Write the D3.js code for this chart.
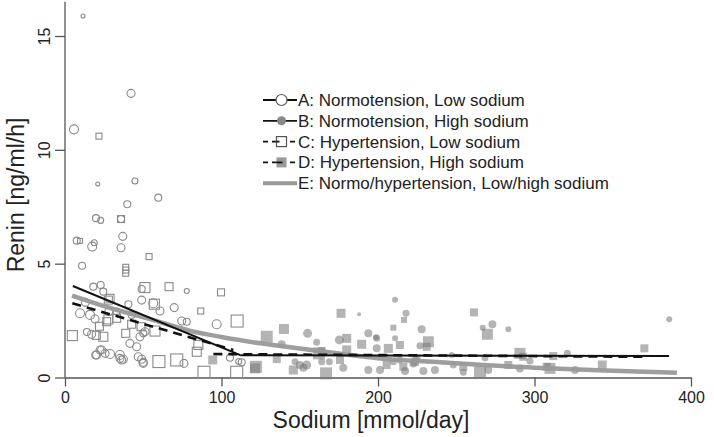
<!DOCTYPE html>
<html><head><meta charset="utf-8">
<script src="https://cdn.jsdelivr.net/npm/d3@7"></script>
<style>
html,body{margin:0;padding:0;background:#fff;}
svg{display:block;font-family:"Liberation Sans",Arial,Helvetica,sans-serif;}
</style></head>
<body>
<svg id="chart" width="714" height="437"></svg>
<script>
// ---- Data ----
const xTicks = [0, 100, 200, 300, 400];
const yTicks = [0, 5, 10, 15];
const xTitle = "Sodium [mmol/day]";
const yTitle = "Renin [ng/ml/h]";
const legendLabels = [
  "A: Normotension, Low sodium",
  "B: Normotension, High sodium",
  "C: Hypertension, Low sodium",
  "D: Hypertension, High sodium",
  "E: Normo/hypertension, Low/high sodium"
];
// [sodium, renin, size]
const groupA = [
  [11.5,15.88,2],[42.2,12.48,4],[5.75,10.9,4.5],[20.9,8.5,2],[44.7,8.63,3],[59.6,7.9,3.5],
  [39.8,7.61,3.5],[19.8,7.0,3.5],[22.8,6.9,3],[35.8,6.96,3.5],[36.9,6.2,4],[7.5,6.01,3.5],
  [18.7,5.92,3],[17.4,5.75,4.5],[35.8,5.7,4],[10.9,4.91,3.5],[18.1,3.99,3.5],[22.8,4.06,3.5],
  [49,3.89,3.5],[77.8,3.8,2.5],[24.5,3.77,3.5],[49,3.4,4],[60.7,2.92,4],[69.8,3.07,4],
  [40.5,3.22,3.5],[96.9,2.34,4.5],[9.6,2.82,4.5],[16,2.75,4.5],[74.6,2.48,4],[77.8,2.45,3.5],
  [51.1,2.01,4],[17,1.9,4],[47.9,1.79,4],[41.5,1.5,4],[45.8,1.35,4],[20.2,0.99,4],
  [23.4,1.21,4],[28.8,1.03,4.5],[35.1,0.99,4.5],[36.2,0.77,4],[46.8,0.91,4],[50,0.67,4],
  [76,0.62,4],[105.4,0.87,3.5],[112.9,0.67,3.5],[111,0.7,3],[13,3.3,4],[28,2.9,4],
  [42.6,2.75,3.5],[50,1.94,3.5],[56.4,3.26,4.5],[19.2,2.57,4],[19.6,0.99,4],[22.4,1.21,4],
  [25.6,1.06,4],[35.1,0.84,4],[37.3,0.8,4],[49,0.8,4],[50,0.62,4],[14,2.0,3.5],[33,2.9,3.5]
];
const groupB = [
  [155,1.94,4.5],[187.9,2.78,2],[210.9,3.41,3],[193.8,1.94,4],[175.3,1.65,4.5],[160.8,1.55,3.5],
  [138.5,1.46,4],[199.2,1.72,3.5],[199.2,1.28,4],[154.4,0.55,4.5],[152.3,0.43,4],[164,0.69,3.5],
  [168.9,0.69,3.5],[177.8,0.43,4],[193.8,0.33,4],[201.3,0.33,4],[209.8,0.69,3.5],[147,0.69,3.5],
  [217.9,2.82,3.5],[227.9,2.12,4],[266.9,2.19,3],[273.1,2.34,4],[283.3,2.12,3],[210.9,1.72,3],
  [226.8,1.4,3.5],[247.1,0.99,3],[268.4,0.87,3.5],[297.1,0.72,3.5],[214,0.77,3.5],[224.7,0.84,4],
  [217.3,0.29,4],[229,0.29,4],[236.4,0.33,4],[248.1,0.55,3.5],[254.5,0.23,3.5],[270.5,0.33,4],
  [290.7,0.4,4],[386.1,2.56,3],[325.9,0.33,4],[321,1.06,3.5],[150,0.55,4],[222.6,0.62,4],[198.7,1.77,3]
];
const groupC = [
  [21.7,10.6,3],[35.8,6.96,3.5],[9.6,6.0,2.5],[53.7,5.31,3],[38.8,4.84,3],[38.8,4.72,3],
  [38.8,4.58,3],[51.1,3.95,5],[66.5,3.99,4],[99.7,3.74,3.5],[28.8,3.48,4],[57.1,3.22,5],
  [86.7,2.92,3],[110,2.48,6],[26.6,2.45,4],[42.6,2.34,4],[48.6,2.23,4],[57.5,2.04,5],
  [4.7,1.84,5],[24.5,1.79,4.5],[38.8,1.94,4],[85.2,1.43,4.5],[84.2,1.13,4.5],[60,0.7,6],
  [71.4,0.77,6],[88.8,0.23,6],[109.7,0.23,6],[22,2.25,4],[27.7,2.55,4.5],[20,1.85,4],[33,2.6,4],[27.7,3.4,4]
];
const groupD = [
  [94.4,0.77,4.5],[121.4,0.4,5],[128.9,1.79,6],[139.9,2.13,5],[176.4,2.82,4.5],[209.8,2.19,3],
  [180,1.72,4.5],[189.6,1.46,4.5],[206.6,1.28,4.5],[162.3,1.06,6],[180,1.21,4.5],[135.3,0.81,4],
  [122,0.47,6],[145.9,0.33,4.5],[166.8,0.18,6],[175.7,0.77,4],[205.5,0.55,4],[216.6,2.53,3],
  [261.3,2.86,4],[269.9,1.9,5.5],[232.2,1.57,5.5],[214,1.43,4],[231.1,1.35,4],[290.7,1.06,5.5],
  [292.8,0.91,4],[223.6,0.69,4],[216.2,0.47,4],[254.5,0.47,4],[265.2,0.23,6],[283.3,0.55,4],
  [307.8,0.47,4],[370.2,1.28,4],[343.3,0.55,4.5],[309.9,0.4,5.5],[312,0.94,4],[164,1.16,4]
];
// fitted lines
const fitA = [[5,4.02],[112,0.98]];
const fitB = [[112,0.98],[386,0.94]];
const fitC = [[4.7,3.26],[107.6,1.21]];
const fitD = [[94.8,1.03],[369.6,0.91]];
const fitE = [[4.5,3.6],[30,3.03],[55,2.55],[80,2.05],[100,1.78],[125,1.5],[150,1.27],
              [175,1.05],[200,0.85],[240,0.67],[300,0.43],[350,0.3],[391,0.21]];

// ---- Drawing ----
const svg = d3.select("#chart");
const x = d3.scaleLinear().domain([0, 400]).range([65, 691]);
const y = d3.scaleLinear().domain([0, 15]).range([377.5, 36]);

const axisCol = "#555";
const ptCol = "#8a8a8a";

// axes
const gx = svg.append("g").attr("transform", `translate(0,${y(0)})`)
  .call(d3.axisBottom(x).tickValues(xTicks).tickSize(9).tickSizeOuter(0).tickPadding(5));
gx.select(".domain").attr("stroke", axisCol).attr("stroke-width", 1.3);
gx.selectAll(".tick line").attr("stroke", axisCol).attr("stroke-width", 1.3);
gx.selectAll(".tick text").attr("font-size", 16).attr("fill", "#222")
  .attr("font-family", '"Liberation Sans",Arial,sans-serif');

const gy = svg.append("g").attr("transform", `translate(${x(0)},0)`)
  .call(d3.axisLeft(y).tickValues(yTicks).tickSize(10).tickSizeOuter(0));
gy.select(".domain").remove();
gy.append("line").attr("x1", 0).attr("x2", 0).attr("y1", y(0)).attr("y2", y(16.5))
  .attr("stroke", axisCol).attr("stroke-width", 1.3);
gy.selectAll(".tick line").attr("stroke", axisCol).attr("stroke-width", 1.3);
gy.selectAll(".tick text").attr("font-size", 16).attr("fill", "#222")
  .attr("font-family", '"Liberation Sans",Arial,sans-serif')
  .attr("x", 0).attr("dy", 0).attr("text-anchor", "middle")
  .attr("transform", "translate(-15,0) rotate(-90)");

// titles
svg.append("text").attr("x", 371).attr("y", 428).attr("text-anchor", "middle")
  .attr("font-size", 23).attr("fill", "#222").text(xTitle);
svg.append("text").attr("transform", "translate(24,195) rotate(-90)").attr("text-anchor", "middle")
  .attr("font-size", 23).attr("fill", "#222").text(yTitle);

// points
const pts = svg.append("g");
pts.selectAll("circle.a").data(groupA).join("circle").attr("class", "a")
  .attr("cx", d => x(d[0])).attr("cy", d => y(d[1])).attr("r", d => d[2])
  .attr("fill", "none").attr("stroke", ptCol).attr("stroke-width", 1.1);
pts.selectAll("rect.c").data(groupC).join("rect").attr("class", "c")
  .attr("x", d => x(d[0]) - d[2]).attr("y", d => y(d[1]) - d[2])
  .attr("width", d => 2 * d[2]).attr("height", d => 2 * d[2])
  .attr("fill", "none").attr("stroke", ptCol).attr("stroke-width", 1.1);
pts.selectAll("circle.b").data(groupB).join("circle").attr("class", "b")
  .attr("cx", d => x(d[0])).attr("cy", d => y(d[1])).attr("r", d => d[2])
  .attr("fill", "#777").attr("fill-opacity", 0.55);
pts.selectAll("rect.d").data(groupD).join("rect").attr("class", "d")
  .attr("x", d => x(d[0]) - d[2]).attr("y", d => y(d[1]) - d[2])
  .attr("width", d => 2 * d[2]).attr("height", d => 2 * d[2])
  .attr("fill", "#777").attr("fill-opacity", 0.55);

// fit lines
const line = d3.line().x(d => x(d[0])).y(d => y(d[1]));
const lineE = d3.line().x(d => x(d[0])).y(d => y(d[1])).curve(d3.curveMonotoneX);
svg.append("path").attr("d", lineE(fitE)).attr("fill", "none")
  .attr("stroke", "#999").attr("stroke-width", 4.5).attr("stroke-opacity", 0.95);
[fitA, fitB].forEach(f => svg.append("path").attr("d", line(f)).attr("fill", "none")
  .attr("stroke", "#111").attr("stroke-width", 2));
[fitC, fitD].forEach(f => svg.append("path").attr("d", line(f)).attr("fill", "none")
  .attr("stroke", "#111").attr("stroke-width", 2.6).attr("stroke-dasharray", "9,6"));

// legend
const lg = svg.append("g");
const lx0 = 263, lx1 = 297, lsym = 281.5, ltx = 298, ly0 = 100, ldy = 20.8;
legendLabels.forEach((t, i) => {
  const yy = ly0 + i * ldy;
  if (i < 4) {
    lg.append("line").attr("x1", lx0).attr("x2", lx1).attr("y1", yy).attr("y2", yy)
      .attr("stroke", "#111").attr("stroke-width", 1.8)
      .attr("stroke-dasharray", i >= 2 ? "5,4" : null);
  } else {
    lg.append("line").attr("x1", lx0).attr("x2", lx1).attr("y1", yy).attr("y2", yy)
      .attr("stroke", "#999").attr("stroke-width", 4);
  }
  if (i === 0) lg.append("circle").attr("cx", lsym).attr("cy", yy).attr("r", 5.5)
    .attr("fill", "#fff").attr("stroke", "#555").attr("stroke-width", 1.2);
  if (i === 1) lg.append("circle").attr("cx", lsym).attr("cy", yy).attr("r", 4.5)
    .attr("fill", "#888");
  if (i === 2) lg.append("rect").attr("x", lsym - 5).attr("y", yy - 5).attr("width", 10).attr("height", 10)
    .attr("fill", "#fff").attr("stroke", "#555").attr("stroke-width", 1.2);
  if (i === 3) lg.append("rect").attr("x", lsym - 5).attr("y", yy - 5).attr("width", 10).attr("height", 10)
    .attr("fill", "#999");
  if (i === 2 || i === 3) lg.append("line").attr("x1", lsym - 5).attr("x2", lsym + 5).attr("y1", yy).attr("y2", yy)
    .attr("stroke", "#111").attr("stroke-width", 1.8).attr("stroke-dasharray", i === 2 ? "3,10" : "6,4");
  lg.append("text").attr("x", ltx).attr("y", yy + 6).attr("font-size", 17).attr("fill", "#222").text(t);
});
</script>
</body></html>
